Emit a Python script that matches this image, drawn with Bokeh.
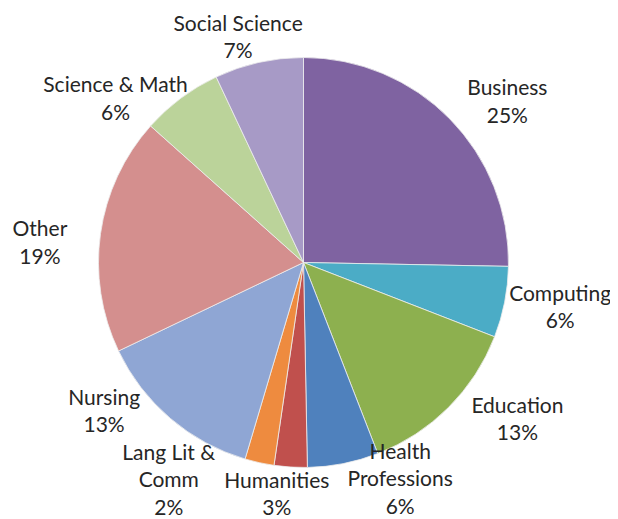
import math
import pandas as pd
from bokeh.plotting import figure
from bokeh.models import ColumnDataSource, Range1d
from bokeh.core.properties import value
from bokeh.embed import file_html
from bokeh.resources import INLINE

# ---- data ----
categories = ["Business", "Computing", "Education", "Health\nProfessions", "Humanities",
              "Lang Lit &\nComm", "Nursing", "Other", "Science & Math", "Social Science"]
shares = [25.3, 5.6, 13.2, 5.6, 2.6, 2.3, 13.3, 18.7, 6.4, 7.0]
colors = ["#7F63A1", "#4BACC6", "#8DB04F", "#4F81BD", "#C0504D",
          "#EE8B3F", "#8FA6D4", "#D48F8E", "#BBD39A", "#A79AC6"]

# ---- layout (label placement tweaks, in degrees / radius factors) ----
label_angle_nudge = [6, -1.5, -9, -13, 3, 19.5, 13, -3.5, -12, -3.5]
label_radius_factor = [1.27, 1.27, 1.29, 1.152, 1.132, 1.243, 1.21, 1.29, 1.22, 1.15]

W, H = 610, 519
CX, CY, R = 303, 257, 205

df = pd.DataFrame({"cat": categories, "share": shares, "color": colors})
df["frac"] = df["share"] / df["share"].sum()
df["end_t"] = df["frac"].cumsum() * 2 * math.pi
df["start_t"] = df["end_t"] - df["frac"] * 2 * math.pi
df["start_angle"] = math.pi / 2 - df["start_t"]
df["end_angle"] = math.pi / 2 - df["end_t"]
df["mid_t"] = (df["start_t"] + df["end_t"]) / 2
df["lab_t"] = df["mid_t"] + pd.Series(label_angle_nudge) * math.pi / 180
df["lab_r"] = pd.Series(label_radius_factor) * R
df["lx"] = CX + df["lab_r"] * df["lab_t"].apply(math.sin)
df["ly"] = CY + df["lab_r"] * df["lab_t"].apply(math.cos)
df["label"] = df["cat"] + "\n" + (df["share"].round().astype(int)).astype(str) + "%"
df["cx"] = CX
df["cy"] = CY

src = ColumnDataSource(df)

p = figure(width=W, height=H, output_backend="svg", toolbar_location=None,
           x_range=Range1d(0, W), y_range=Range1d(0, H),
           min_border=0, outline_line_color=None)
p.axis.visible = False
p.grid.visible = False
p.background_fill_color = "white"
p.border_fill_color = "white"

p.wedge(x="cx", y="cy", radius=R, start_angle="start_angle", end_angle="end_angle",
        direction="clock", fill_color="color", line_color="#EDEDED", line_width=0.8,
        source=src)

p.text(x="lx", y="ly", text="label", source=src, text_align="center",
       text_baseline="middle", text_font=value("Lato"), text_font_size="21px",
       text_color="#262626", text_line_height=1.1)

open("out.html", "w").write(file_html(p, INLINE))
